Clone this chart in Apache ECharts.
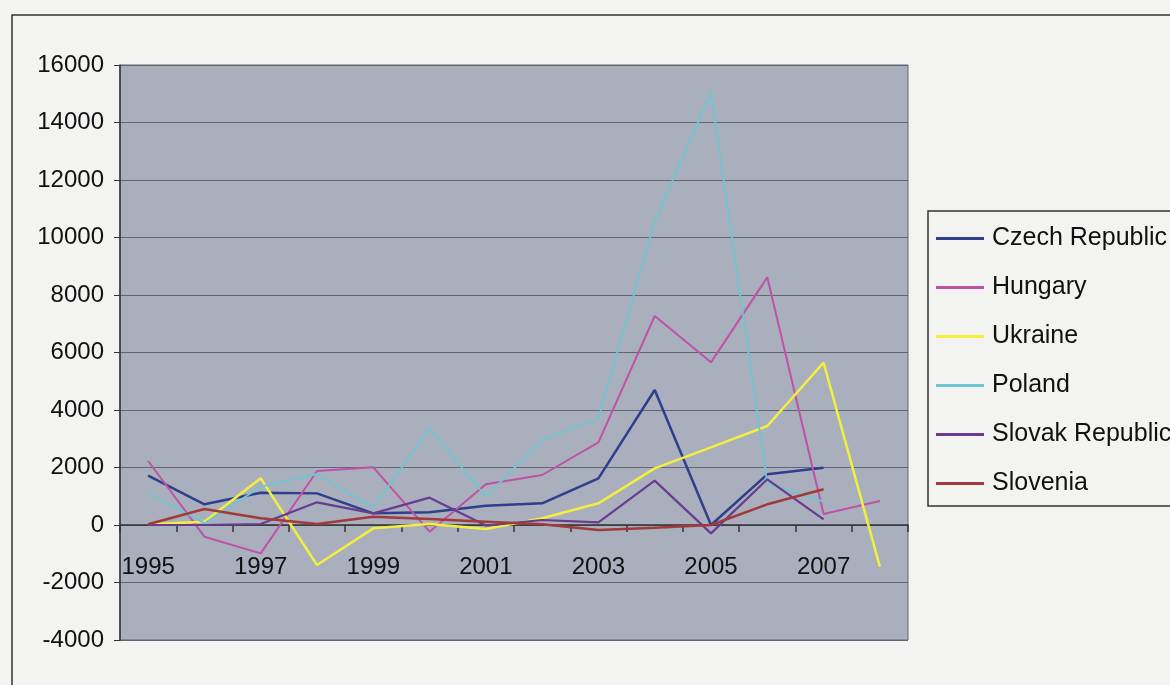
<!DOCTYPE html>
<html>
<head>
<meta charset="utf-8">
<script src="https://cdn.jsdelivr.net/npm/echarts@6/dist/echarts.min.js"></script>
<style>
html,body{margin:0;padding:0;background:#f3f3f2;}
#chart{width:1170px;height:685px;}
</style>
</head>
<body>
<div id="chart"></div>
<script>
const years = ['1995','1996','1997','1998','1999','2000','2001','2002','2003','2004','2005','2006','2007','2008'];
const czech    = [1715, 720, 1124, 1100, 406, 440, 670, 755, 1623, 4696, 0, 1762, 1994, null];
const hungary  = [2226, -406, -986, 1878, 2006, -232, 1415, 1739, 2875, 7270, 5658, 8614, 383, 835];
const ukraine  = [25, 115, 1623, -1391, -116, 35, -139, 232, 754, 1971, 2702, 3443, 5646, -1449];
const poland   = [1124, 58, 1333, 1774, 603, 3362, 986, 2957, 3710, 10551, 15049, 1449, 812, null];
const slovak   = [0, 0, 35, 788, 406, 951, -20, 174, 93, 1542, -290, 1589, 197, null];
const slovenia = [25, 556, 232, 35, 290, 209, 116, 25, -174, -93, 0, 720, 1241, null];
const yTicks = {min: -4000, max: 16000, interval: 2000};

const seriesDefs = [
  {name: 'Czech Republic', data: czech, color: '#2f3f8c', width: 2.5},
  {name: 'Hungary', data: hungary, color: '#c052a6', width: 2},
  {name: 'Ukraine', data: ukraine, color: '#f3ef3e', width: 2.5},
  {name: 'Poland', data: poland, color: '#6ec6cf', width: 1.8},
  {name: 'Slovak Republic', data: slovak, color: '#693c91', width: 2.2},
  {name: 'Slovenia', data: slovenia, color: '#a13a3a', width: 2.5}
];

const chart = echarts.init(document.getElementById('chart'));
const font = "'Liberation Sans', Arial, sans-serif";
chart.setOption({
  backgroundColor: '#f3f3f2',
  animation: false,
  textStyle: {fontFamily: font},
  graphic: [{
    type: 'rect', shape: {x: 12, y: 15, width: 1300, height: 800},
    style: {fill: 'none', stroke: '#333', lineWidth: 1.5}, silent: true
  }],
  grid: {
    left: 120, top: 65, right: 262, bottom: 45,
    show: true, backgroundColor: '#a9afbd', borderColor: '#666', borderWidth: 1,
    containLabel: false, outerBoundsMode: 'none'
  },
  legend: {
    orient: 'vertical', left: 928, top: 211,
    borderColor: '#333', borderWidth: 1.5, backgroundColor: '#f3f3f2',
    padding: [15, 40, 10, 8],
    itemWidth: 48, itemHeight: 3, itemGap: 24,
    icon: 'rect',
    textStyle: {fontSize: 25, color: '#111', fontFamily: font, padding: [0, 0, 0, 3]},
    data: seriesDefs.map(s => s.name)
  },
  xAxis: {
    type: 'category', data: years, boundaryGap: true,
    axisLine: {onZero: true, lineStyle: {color: '#333', width: 1.5}},
    axisTick: {show: true, interval: 0, length: 7, lineStyle: {color: '#333', width: 1.5}},
    axisLabel: {interval: 1, fontSize: 24, color: '#111', margin: -85, fontFamily: font},
    splitLine: {show: false}
  },
  yAxis: {
    type: 'value', min: yTicks.min, max: yTicks.max, interval: yTicks.interval,
    axisLine: {show: true, lineStyle: {color: '#333', width: 1.5}},
    axisTick: {show: true, length: 6, lineStyle: {color: '#333'}},
    axisLabel: {fontSize: 24, color: '#111', margin: 16, fontFamily: font, formatter: v => String(v)},
    splitLine: {show: true, lineStyle: {color: '#5f6672', width: 1.2}}
  },
  series: seriesDefs.map(s => ({
    name: s.name, type: 'line', data: s.data, showSymbol: false, symbol: 'none',
    connectNulls: false,
    itemStyle: {color: s.color},
    lineStyle: {color: s.color, width: s.width}
  }))
});
</script>
</body>
</html>
